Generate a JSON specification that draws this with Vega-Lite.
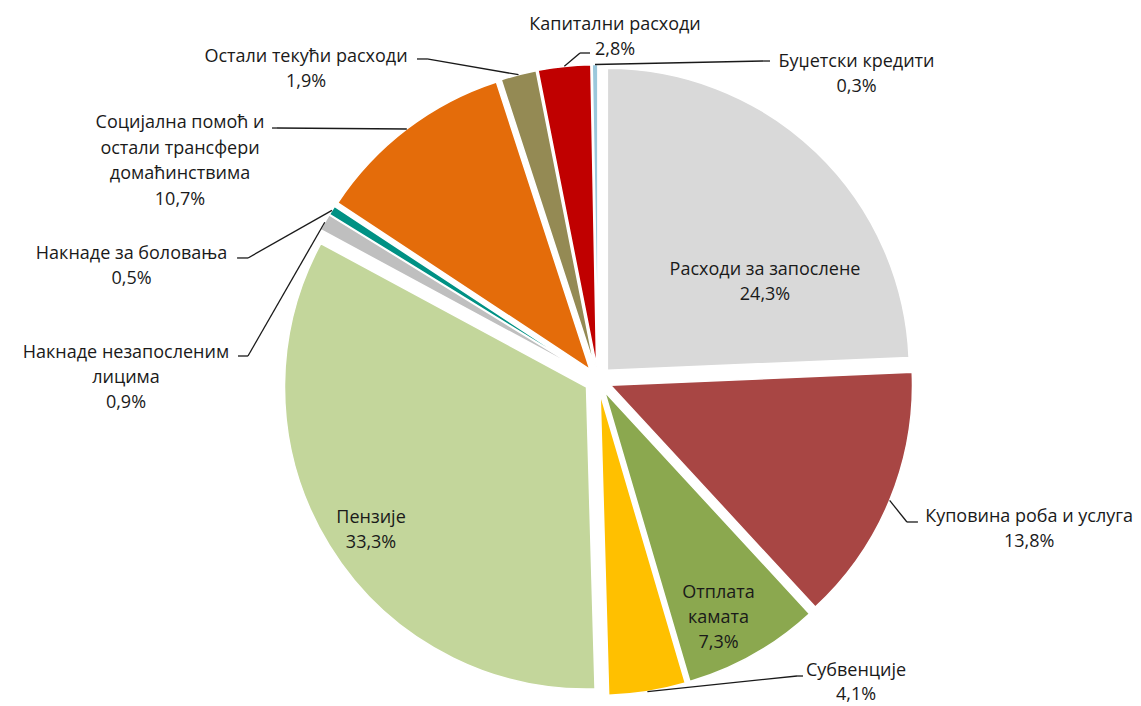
{
  "$schema": "https://vega.github.io/schema/vega-lite/v6.json",
  "width": 1086,
  "height": 652,
  "autosize": {"type": "none"},
  "padding": {"left": 55, "top": 54, "right": 0, "bottom": 0},
  "background": "white",
  "config": {"view": {"stroke": null}},
  "data": {"values": [
    {"order": 1, "name": "Расходи за запослене", "value": 24.3},
    {"order": 2, "name": "Куповина роба и услуга", "value": 13.8},
    {"order": 3, "name": "Отплата\nкамата", "value": 7.3},
    {"order": 4, "name": "Субвенције", "value": 4.1},
    {"order": 5, "name": "Пензије", "value": 33.3},
    {"order": 6, "name": "Накнаде незапосленим\nлицима", "value": 0.9},
    {"order": 7, "name": "Накнаде за боловања", "value": 0.5},
    {"order": 8, "name": "Социјална помоћ и\nостали трансфери\nдомаћинствима", "value": 10.7},
    {"order": 9, "name": "Остали текући расходи", "value": 1.9},
    {"order": 10, "name": "Капитални расходи", "value": 2.8},
    {"order": 11, "name": "Буџетски кредити", "value": 0.3}
  ]},
  "transform": [
    {"window": [{"op": "sum", "field": "value", "as": "cum"}], "sort": [{"field": "order"}], "frame": [null, 0]},
    {"joinaggregate": [{"op": "sum", "field": "value", "as": "total"}]},
    {"calculate": "2*PI*(datum.cum - datum.value/2)/datum.total", "as": "mid"},
    {"calculate": "13.5*sin(datum.mid)", "as": "ex"},
    {"calculate": "-13.5*cos(datum.mid)", "as": "ey"},
    {"calculate": "315.5*sin(datum.mid)", "as": "px"},
    {"calculate": "-315.5*cos(datum.mid)", "as": "py"},
    {"calculate": "datum.name + '\\n' + replace(format(datum.value, '.1f'), '.', ',') + '%'", "as": "txt"}
  ],
  "encoding": {
    "x": {"field": "px", "type": "quantitative", "scale": {"domain": [-543, 543], "nice": false, "zero": false}, "axis": null},
    "y": {"field": "py", "type": "quantitative", "scale": {"domain": [-326, 326], "reverse": true, "nice": false, "zero": false}, "axis": null}
  },
  "layer": [
    {
      "mark": {"type": "arc", "outerRadius": 302, "stroke": "white", "strokeWidth": 1.5},
      "encoding": {
        "x": {"field": "ex", "type": "quantitative", "scale": {"domain": [-543, 543], "nice": false, "zero": false}, "axis": null},
        "y": {"field": "ey", "type": "quantitative", "scale": {"domain": [-326, 326], "reverse": true, "nice": false, "zero": false}, "axis": null},
        "theta": {"field": "value", "type": "quantitative", "stack": true},
        "order": {"field": "order", "type": "quantitative"},
        "color": {"field": "order", "type": "ordinal", "legend": null,
          "scale": {"domain": [1,2,3,4,5,6,7,8,9,10,11],
            "range": ["#D9D9D9", "#A84644", "#8BA84F", "#FFC000", "#C3D69B", "#BFBFBF", "#009184", "#E46C0A", "#948A54", "#C00000", "#9BC8DC"]}}
      }
    },
    {"transform": [{"filter": "datum.order == 2"}], "mark": {"type": "rule", "x2Offset": 17.3, "y2Offset": 21.6, "stroke": "#1a1a1a", "strokeWidth": 1.3}, "encoding": {"x2": {"field": "px"}, "y2": {"field": "py"}}},
    {"transform": [{"filter": "datum.order == 2"}], "mark": {"type": "rule", "xOffset": 17.3, "yOffset": 21.6, "x2Offset": 28.3, "y2Offset": 21.6, "stroke": "#1a1a1a", "strokeWidth": 1.3}, "encoding": {"x2": {"field": "px"}, "y2": {"field": "py"}}},
    {"transform": [{"filter": "datum.order == 4"}], "mark": {"type": "rule", "x2Offset": 149.6, "y2Offset": -15.6, "stroke": "#1a1a1a", "strokeWidth": 1.3}, "encoding": {"x2": {"field": "px"}, "y2": {"field": "py"}}},
    {"transform": [{"filter": "datum.order == 4"}], "mark": {"type": "rule", "xOffset": 149.6, "yOffset": -15.6, "x2Offset": 155.6, "y2Offset": -15.6, "stroke": "#1a1a1a", "strokeWidth": 1.3}, "encoding": {"x2": {"field": "px"}, "y2": {"field": "py"}}},
    {"transform": [{"filter": "datum.order == 6"}], "mark": {"type": "rule", "x2Offset": -76.8, "y2Offset": 133.75, "stroke": "#1a1a1a", "strokeWidth": 1.3}, "encoding": {"x2": {"field": "px"}, "y2": {"field": "py"}}},
    {"transform": [{"filter": "datum.order == 6"}], "mark": {"type": "rule", "xOffset": -76.8, "yOffset": 133.75, "x2Offset": -86.8, "y2Offset": 133.75, "stroke": "#1a1a1a", "strokeWidth": 1.3}, "encoding": {"x2": {"field": "px"}, "y2": {"field": "py"}}},
    {"transform": [{"filter": "datum.order == 7"}], "mark": {"type": "rule", "x2Offset": -83.9, "y2Offset": 47.6, "stroke": "#1a1a1a", "strokeWidth": 1.3}, "encoding": {"x2": {"field": "px"}, "y2": {"field": "py"}}},
    {"transform": [{"filter": "datum.order == 7"}], "mark": {"type": "rule", "xOffset": -83.9, "yOffset": 47.6, "x2Offset": -94.9, "y2Offset": 47.6, "stroke": "#1a1a1a", "strokeWidth": 1.3}, "encoding": {"x2": {"field": "px"}, "y2": {"field": "py"}}},
    {"transform": [{"filter": "datum.order == 8"}], "mark": {"type": "rule", "x2Offset": -129.8, "y2Offset": -1, "stroke": "#1a1a1a", "strokeWidth": 1.3}, "encoding": {"x2": {"field": "px"}, "y2": {"field": "py"}}},
    {"transform": [{"filter": "datum.order == 8"}], "mark": {"type": "rule", "xOffset": -129.8, "yOffset": -1, "x2Offset": -134.8, "y2Offset": -1, "stroke": "#1a1a1a", "strokeWidth": 1.3}, "encoding": {"x2": {"field": "px"}, "y2": {"field": "py"}}},
    {"transform": [{"filter": "datum.order == 9"}], "mark": {"type": "rule", "x2Offset": -91.5, "y2Offset": -15.7, "stroke": "#1a1a1a", "strokeWidth": 1.3}, "encoding": {"x2": {"field": "px"}, "y2": {"field": "py"}}},
    {"transform": [{"filter": "datum.order == 9"}], "mark": {"type": "rule", "xOffset": -91.5, "yOffset": -15.7, "x2Offset": -101.5, "y2Offset": -15.7, "stroke": "#1a1a1a", "strokeWidth": 1.3}, "encoding": {"x2": {"field": "px"}, "y2": {"field": "py"}}},
    {"transform": [{"filter": "datum.order == 10"}], "mark": {"type": "rule", "x2Offset": 15.7, "y2Offset": -13.3, "stroke": "#1a1a1a", "strokeWidth": 1.3}, "encoding": {"x2": {"field": "px"}, "y2": {"field": "py"}}},
    {"transform": [{"filter": "datum.order == 10"}], "mark": {"type": "rule", "xOffset": 15.7, "yOffset": -13.3, "x2Offset": 25.7, "y2Offset": -13.3, "stroke": "#1a1a1a", "strokeWidth": 1.3}, "encoding": {"x2": {"field": "px"}, "y2": {"field": "py"}}},
    {"transform": [{"filter": "datum.order == 11"}], "mark": {"type": "rule", "x2Offset": 168, "y2Offset": -3.5, "stroke": "#1a1a1a", "strokeWidth": 1.3}, "encoding": {"x2": {"field": "px"}, "y2": {"field": "py"}}},
    {"transform": [{"filter": "datum.order == 11"}], "mark": {"type": "rule", "xOffset": 168, "yOffset": -3.5, "x2Offset": 175, "y2Offset": -3.5, "stroke": "#1a1a1a", "strokeWidth": 1.3}, "encoding": {"x2": {"field": "px"}, "y2": {"field": "py"}}},
    {"transform": [{"filter": "datum.order == 1"}], "mark": {"type": "text", "dx": -51.3, "dy": 122.8, "align": "center", "baseline": "alphabetic", "lineBreak": "\n", "lineHeight": 25, "font": "Open Sans", "fontSize": 18, "fill": "#1a1a1a"}, "encoding": {"text": {"field": "txt"}}},
    {"transform": [{"filter": "datum.order == 2"}], "mark": {"type": "text", "dx": 139.5, "dy": 21.6, "align": "center", "baseline": "alphabetic", "lineBreak": "\n", "lineHeight": 25, "font": "Open Sans", "fontSize": 18, "fill": "#1a1a1a"}, "encoding": {"text": {"field": "txt"}}},
    {"transform": [{"filter": "datum.order == 3"}], "mark": {"type": "text", "dx": -35.1, "dy": -56.5, "align": "center", "baseline": "alphabetic", "lineBreak": "\n", "lineHeight": 25, "font": "Open Sans", "fontSize": 18, "fill": "#1a1a1a"}, "encoding": {"text": {"field": "txt"}}},
    {"transform": [{"filter": "datum.order == 4"}], "mark": {"type": "text", "dx": 208.6, "dy": -15.6, "align": "center", "baseline": "alphabetic", "lineBreak": "\n", "lineHeight": 24, "font": "Open Sans", "fontSize": 18, "fill": "#1a1a1a"}, "encoding": {"text": {"field": "txt"}}},
    {"transform": [{"filter": "datum.order == 5"}], "mark": {"type": "text", "dx": 41.7, "dy": -22.4, "align": "center", "baseline": "alphabetic", "lineBreak": "\n", "lineHeight": 25, "font": "Open Sans", "fontSize": 18, "fill": "#1a1a1a"}, "encoding": {"text": {"field": "txt"}}},
    {"transform": [{"filter": "datum.order == 6"}], "mark": {"type": "text", "dx": -198.8, "dy": 135.75, "align": "center", "baseline": "alphabetic", "lineBreak": "\n", "lineHeight": 25, "font": "Open Sans", "fontSize": 18, "fill": "#1a1a1a"}, "encoding": {"text": {"field": "txt"}}},
    {"transform": [{"filter": "datum.order == 7"}], "mark": {"type": "text", "dx": -200.4, "dy": 48.6, "align": "center", "baseline": "alphabetic", "lineBreak": "\n", "lineHeight": 25, "font": "Open Sans", "fontSize": 18, "fill": "#1a1a1a"}, "encoding": {"text": {"field": "txt"}}},
    {"transform": [{"filter": "datum.order == 8"}], "mark": {"type": "text", "dx": -226.8, "dy": -1, "align": "center", "baseline": "alphabetic", "lineBreak": "\n", "lineHeight": 25.5, "font": "Open Sans", "fontSize": 18, "fill": "#1a1a1a"}, "encoding": {"text": {"field": "txt"}}},
    {"transform": [{"filter": "datum.order == 9"}], "mark": {"type": "text", "dx": -212.5, "dy": -12.7, "align": "center", "baseline": "alphabetic", "lineBreak": "\n", "lineHeight": 25, "font": "Open Sans", "fontSize": 18, "fill": "#1a1a1a"}, "encoding": {"text": {"field": "txt"}}},
    {"transform": [{"filter": "datum.order == 10"}], "mark": {"type": "text", "dx": 50.7, "dy": -36.3, "align": "center", "baseline": "alphabetic", "lineBreak": "\n", "lineHeight": 25, "font": "Open Sans", "fontSize": 18, "fill": "#1a1a1a"}, "encoding": {"text": {"field": "txt"}}},
    {"transform": [{"filter": "datum.order == 11"}], "mark": {"type": "text", "dx": 261.5, "dy": 2.5, "align": "center", "baseline": "alphabetic", "lineBreak": "\n", "lineHeight": 25, "font": "Open Sans", "fontSize": 18, "fill": "#1a1a1a"}, "encoding": {"text": {"field": "txt"}}}
  ]
}
